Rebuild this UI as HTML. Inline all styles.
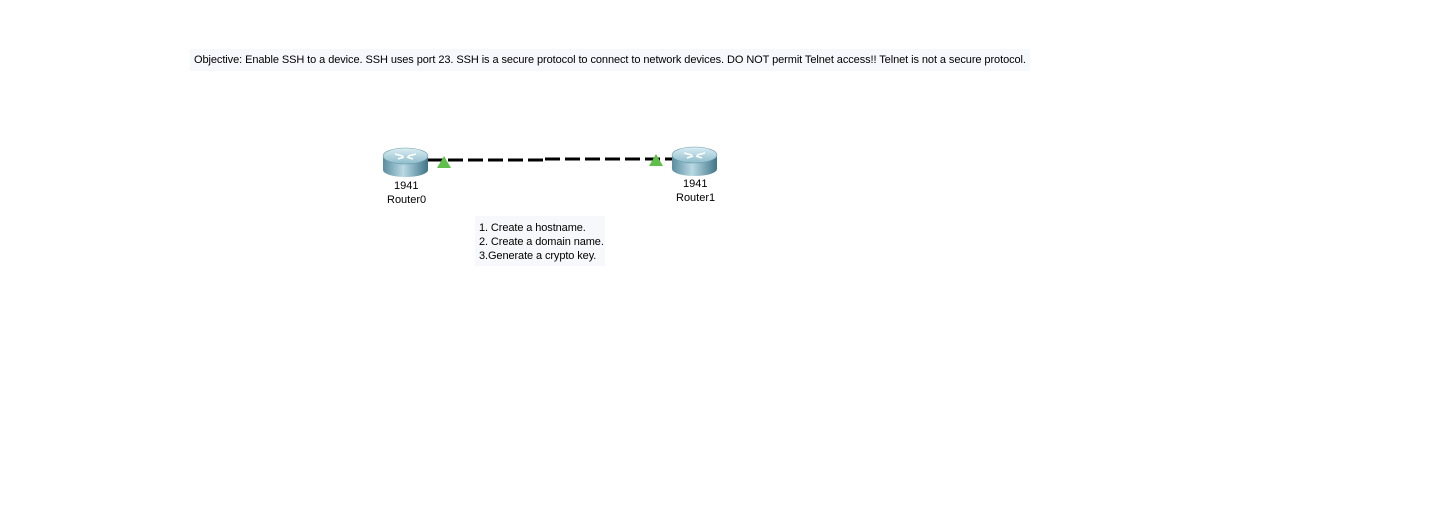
<!DOCTYPE html>
<html><head><meta charset="utf-8"><style>
body{margin:0;width:1447px;height:526px;background:#fff;position:relative;overflow:hidden;font-family:"Liberation Sans",Arial,sans-serif;color:#000}
.t{position:absolute;font-size:11px;white-space:nowrap}
.box{position:absolute;background:#f7f8fc}
</style></head><body>
<div class="box" style="left:190px;top:49px;width:840px;height:22px"></div>
<div class="t" style="left:194px;top:54px;font-size:11px;letter-spacing:-0.08px">Objective: Enable SSH to a device. SSH uses port 23. SSH is a secure protocol to connect to network devices. DO NOT permit Telnet access!! Telnet is not a secure protocol.</div>

<svg width="1447" height="526" style="position:absolute;left:0;top:0">
<defs>
<linearGradient id="g" x1="0" y1="0" x2="1" y2="0">
<stop offset="0" stop-color="#5a8ea0"/><stop offset="0.45" stop-color="#b9d9e4"/><stop offset="1" stop-color="#3f7588"/>
</linearGradient>
<linearGradient id="gt" x1="0" y1="0" x2="0" y2="1">
<stop offset="0" stop-color="#dbeef4"/><stop offset="1" stop-color="#8fbccb"/>
</linearGradient>
</defs>
<line x1="428" y1="160" x2="545" y2="160" stroke="#000" stroke-width="3" stroke-dasharray="15,5"/>
<line x1="545" y1="159" x2="672" y2="159" stroke="#000" stroke-width="3" stroke-dasharray="15,5"/>
<g id="r">
<path d="M383,156 L383,170 A22.5,7 0 0 0 428,170 L428,156 Z" fill="url(#g)"/>
<ellipse cx="405.5" cy="156" rx="22.5" ry="8" fill="url(#gt)" stroke="#6a9aab" stroke-width="0.6"/>
<path d="M395,154 l8,2 M416,154 l-8,2 M398,159 l6,-2 M413,159 l-6,-2" stroke="#fff" stroke-width="1.6"/>
</g>
<use href="#r" transform="translate(289,-1)"/>
<polygon points="437,168 444,156 451,168" fill="#5fbf4a"/>
<polygon points="649,166 656,154 663,166" fill="#5fbf4a"/>
</svg>

<div class="t" style="left:394px;top:180px">1941</div>
<div class="t" style="left:387px;top:194px">Router0</div>
<div class="t" style="left:683px;top:178px">1941</div>
<div class="t" style="left:676px;top:192px">Router1</div>

<div class="box" style="left:475px;top:216px;width:130px;height:50px"></div>
<div class="t" style="left:479px;top:221px;line-height:14px;letter-spacing:-0.1px">1. Create a hostname.<br>2. Create a domain name.<br>3.Generate a crypto key.</div>
</body></html>
